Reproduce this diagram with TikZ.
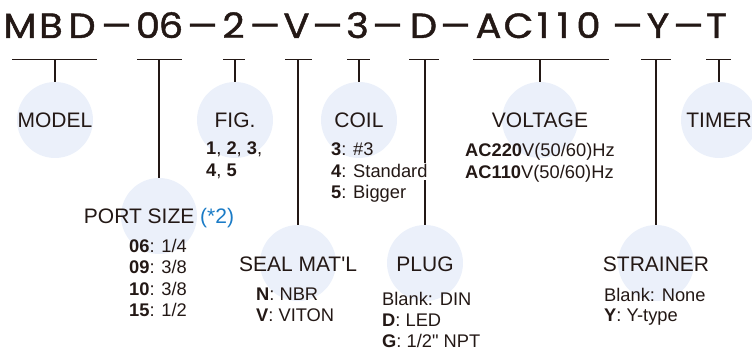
\documentclass[tikz,border=0pt]{standalone}
\usepackage{fontspec}
\setmainfont{Liberation Sans}[Ligatures=TeXOff]
\newfontfamily\titlefont{Poppins}[FakeBold=1.2]
\usetikzlibrary{backgrounds}
\definecolor{ink}{HTML}{231815}
\definecolor{disc}{HTML}{EBF0FA}
\definecolor{note}{HTML}{1A7BC6}
\newcommand{\codedash}{\scalebox{1.35}[1]{–}}
\newcommand{\cg}[1]{\scalebox{1.1}[1]{#1}}
\newcommand{\cb}[2]{\makebox[#1pt]{\cg{#2}}}
\begin{document}
\begin{tikzpicture}[x=1pt,y=-1pt,
  code/.style={font=\titlefont\fontsize{35}{35}\selectfont, text=ink, anchor=base, inner sep=0pt},
  bub/.style={circle, fill=disc, minimum size=76pt, inner sep=0pt},
  lab/.style={font=\fontsize{21}{21}\selectfont, text=ink, anchor=base, inner sep=0pt},
  desc/.style={font=\fontsize{18.3}{18.3}\selectfont, text=ink, anchor=base west, inner sep=0pt},
  wire/.style={draw=ink, line width=1.5pt}]
\useasboundingbox (0,0) rectangle (752,352);

% code string
\node[code] (cMBD) at (51,38) {\cb{31}{M}\cb{31}{B}\cb{31}{D}};
\node[code] (k1) at (116.5,38) {\codedash};
\node[code] (c06) at (159.5,38) {\cb{23}{0}\cb{23}{6}};
\node[code] (k2) at (202.5,38) {\codedash};
\node[code] (c2) at (233.5,38) {\cg{2}};
\node[code] (k3) at (265,38) {\codedash};
\node[code] (cV) at (296.5,38) {\cg{V}};
\node[code] (k4) at (327.5,38) {\codedash};
\node[code] (c3) at (357.5,38) {\cg{3}};
\node[code] (k5) at (387.5,38) {\codedash};
\node[code] (cD) at (423.5,38) {\cg{D}};
\node[code] (k6) at (455.5,38) {\codedash};
\node[code] (cAC) at (538.5,38) {\cb{31}{A}\cb{29}{C}\cb{20}{1}\cb{20}{1}\cb{31}{0}};
\node[code] (k7) at (627.5,38) {\codedash};
\node[code] (cY) at (658,38) {\cg{Y}};
\node[code] (k8) at (688.5,38) {\codedash};
\node[code] (cT) at (716.5,38) {\cg{T}};

% underline ends
\coordinate (u1a) at (12,59.5);  \coordinate (u1b) at (97,59.5);
\coordinate (u2a) at (137,59.5); \coordinate (u2b) at (182,59.5);
\coordinate (u3a) at (223,59.5); \coordinate (u3b) at (245,59.5);
\coordinate (u4a) at (285,59.5); \coordinate (u4b) at (312,59.5);
\coordinate (u5a) at (347,59.5); \coordinate (u5b) at (370,59.5);
\coordinate (u6a) at (409,59.5); \coordinate (u6b) at (439,59.5);
\coordinate (u7a) at (473,59.5); \coordinate (u7b) at (609,59.5);
\coordinate (u8a) at (641,59.5); \coordinate (u8b) at (671,59.5);
\coordinate (u9a) at (706,59.5); \coordinate (u9b) at (731,59.5);

% bubbles
\node[bub] (model) at (55,120) {};
\node[bub] (fig) at (235,120) {};
\node[bub] (coil) at (359,120) {};
\node[bub] (volt) at (540,120) {};
\node[bub] (timer) at (719,120) {};
\node[bub] (port) at (159,216) {};
\node[bub] (seal) at (298,263) {};
\node[bub] (plug) at (425,263) {};
\node[bub] (strainer) at (656,263) {};

% labels
\node[lab] (tmodel) at (55,128) {MODEL};
\node[lab] (tfig) at (235,128) {FIG.};
\node[lab] (tcoil) at (359,128) {COIL};
\node[lab] (tvolt) at (540,128) {VOLTAGE};
\node[lab] (ttimer) at (719,128) {TIMER};
\node[lab] (tport) at (159,224) {PORT SIZE \textcolor{note}{(*2)}};
\node[lab] (tseal) at (298,272) {SEAL MAT'L};
\node[lab] (tplug) at (425,272) {PLUG};
\node[lab] (tstrainer) at (656,272) {STRAINER};

% descriptions
\node[desc] (f1) at (206,155) {\textbf{1}, \textbf{2}, \textbf{3},};
\node[desc] (f2) at (206,177) {\textbf{4}, \textbf{5}};
\node[desc] (o1) at (331,156) {\textbf{3}: \#3};
\node[desc, fill=white, inner xsep=1.5pt, inner ysep=2pt] (o2) at (329.5,178) {\textbf{4}: Standard};
\node[desc] (o3) at (331,199) {\textbf{5}: Bigger};
\node[desc] (v1) at (465,157) {\textbf{AC220}V(50/60)Hz};
\node[desc] (v2) at (465,179) {\textbf{AC110}V(50/60)Hz};
\node[desc] (p1) at (129,253) {\textbf{06}: 1/4};
\node[desc] (p2) at (129,274) {\textbf{09}: 3/8};
\node[desc] (p3) at (129,296) {\textbf{10}: 3/8};
\node[desc] (p4) at (129,317) {\textbf{15}: 1/2};
\node[desc] (s1) at (256,301) {\textbf{N}: NBR};
\node[desc] (s2) at (256,322) {\textbf{V}: VITON};
\node[desc] (g1) at (382,306) {Blank: DIN};
\node[desc] (g2) at (382,327) {\textbf{D}: LED};
\node[desc] (g3) at (382,348) {\textbf{G}: 1/2" NPT};
\node[desc] (y1) at (604,302) {Blank: None};
\node[desc] (y2) at (604,322) {\textbf{Y}: Y-type};

\begin{scope}[on background layer]
\draw[wire] (u1a) -- (u1b); \draw[wire] (model.north |- u1a) -- (model.north);
\draw[wire] (u2a) -- (u2b); \draw[wire] (port.north |- u2a) -- (port.north);
\draw[wire] (u3a) -- (u3b); \draw[wire] (fig.north |- u3a) -- (fig.north);
\draw[wire] (u4a) -- (u4b); \draw[wire] (seal.north |- u4a) -- (seal.north);
\draw[wire] (u5a) -- (u5b); \draw[wire] (coil.north |- u5a) -- (coil.north);
\draw[wire] (u6a) -- (u6b); \draw[wire] (plug.north |- u6a) -- (plug.north);
\draw[wire] (u7a) -- (u7b); \draw[wire] (volt.north |- u7a) -- (volt.north);
\draw[wire] (u8a) -- (u8b); \draw[wire] (strainer.north |- u8a) -- (strainer.north);
\draw[wire] (u9a) -- (u9b); \draw[wire] (timer.north |- u9a) -- (timer.north);
\end{scope}
\end{tikzpicture}
\end{document}
